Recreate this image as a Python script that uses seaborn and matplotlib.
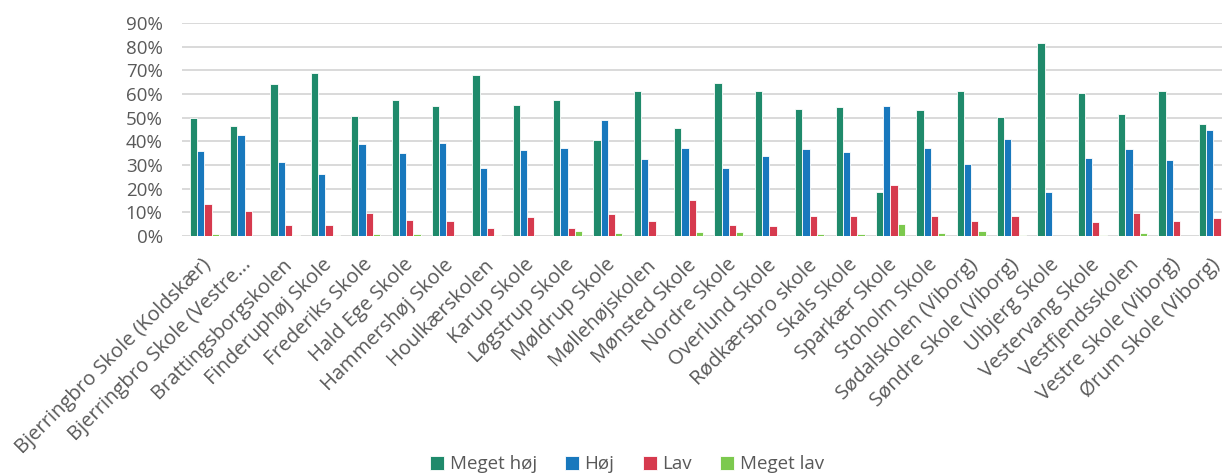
import pandas as pd
import matplotlib.pyplot as plt
import matplotlib.transforms as mtransforms
import seaborn as sns
from matplotlib.ticker import PercentFormatter

schools = [
    'Bjerringbro Skole (Koldskær)', 'Bjerringbro Skole (Vestre...', 'Brattingsborgskolen',
    'Finderuphøj Skole', 'Frederiks Skole', 'Hald Ege Skole', 'Hammershøj Skole',
    'Houlkærskolen', 'Karup Skole', 'Løgstrup Skole', 'Møldrup Skole', 'Møllehøjskolen',
    'Mønsted Skole', 'Nordre Skole', 'Overlund Skole', 'Rødkærsbro skole', 'Skals Skole',
    'Sparkær Skole', 'Stoholm Skole', 'Sødalskolen (Viborg)', 'Søndre Skole (Viborg)',
    'Ulbjerg Skole', 'Vestervang Skole', 'Vestfjendsskolen', 'Vestre Skole (Viborg)',
    'Ørum Skole (Viborg)',
]
meget_hoj = [50.0, 46.5, 64.1, 68.7, 50.7, 57.5, 54.8, 67.9, 55.5, 57.5, 40.6, 61.1, 45.8,
             64.8, 61.4, 53.7, 54.4, 18.5, 53.4, 61.1, 50.3, 81.5, 60.3, 51.7, 61.1, 47.2]
hoj = [36.1, 42.5, 31.3, 26.3, 39.0, 35.1, 39.4, 28.6, 36.3, 37.2, 49.2, 32.7, 37.2,
       28.9, 33.8, 36.8, 35.6, 55.1, 37.2, 30.4, 41.0, 18.5, 33.1, 36.8, 32.3, 44.9]
lav = [13.5, 10.6, 4.5, 4.5, 9.6, 6.9, 6.2, 3.5, 7.9, 3.4, 9.2, 6.5, 15.4,
       4.5, 4.2, 8.6, 8.6, 21.4, 8.3, 6.5, 8.3, 0.0, 6.1, 9.9, 6.5, 7.6]
meget_lav = [0.8, 0.0, 0.3, 0.5, 0.8, 0.8, 0.0, 0.5, 0.0, 2.1, 1.3, 0.0, 1.7,
             1.7, 0.0, 0.8, 0.8, 4.9, 1.3, 2.1, 0.5, 0.0, 0.5, 1.3, 0.0, 0.0]

series = ['Meget høj', 'Høj', 'Lav', 'Meget lav']
colors = ['#1f8a6b', '#1878bd', '#d63a4e', '#7cc94e']

df = pd.concat([
    pd.DataFrame({'Skole': schools, 'Niveau': name, 'Andel': vals})
    for name, vals in zip(series, [meget_hoj, hoj, lav, meget_lav])
])
df['Andel'] = df['Andel'] / 100

sns.set_style('white')
plt.rcParams['font.family'] = ['Open Sans', 'DejaVu Sans']

fig = plt.figure(figsize=(12.22, 4.76), dpi=100)
ax = fig.add_axes([0.149, 0.504, 0.867, 0.448])

sns.barplot(data=df, x='Skole', y='Andel', hue='Niveau', hue_order=series,
            palette=colors, width=0.72, edgecolor='white', linewidth=0.6,
            saturation=1, ax=ax, legend=True)

ax.set_ylim(0, 0.9)
ax.set_yticks([i / 10 for i in range(10)])
ax.yaxis.set_major_formatter(PercentFormatter(1.0, decimals=0))
ax.set_xlim(-0.55, len(schools) - 0.3)
ax.grid(axis='y', color='#d9d9d9', linewidth=1.4)
ax.set_axisbelow(True)
for s in ax.spines.values():
    s.set_visible(False)
ax.set_xlabel('')
ax.set_ylabel('')
ax.tick_params(axis='y', labelsize=13.5, labelcolor='#595959', length=0, pad=14)
ax.tick_params(axis='x', labelsize=14.5, labelcolor='#595959', length=0, pad=2)

# push rotated labels down a bit like the original
offset = mtransforms.ScaledTranslation(-3 / 100, -16 / 100, fig.dpi_scale_trans)
for lbl in ax.get_xticklabels():
    lbl.set_rotation(45)
    lbl.set_ha('right')
    lbl.set_rotation_mode('anchor')
    lbl.set_transform(lbl.get_transform() + offset)

handles, labels = ax.get_legend_handles_labels()
ax.get_legend().remove()
fig.legend(handles, labels, loc='lower center', bbox_to_anchor=(0.513, -0.03),
           ncol=4, frameon=False, fontsize=13.5, labelcolor='#595959',
           handlelength=0.75, handleheight=0.75, handletextpad=0.3, columnspacing=1.5)

fig.savefig('out.png', dpi=100)
